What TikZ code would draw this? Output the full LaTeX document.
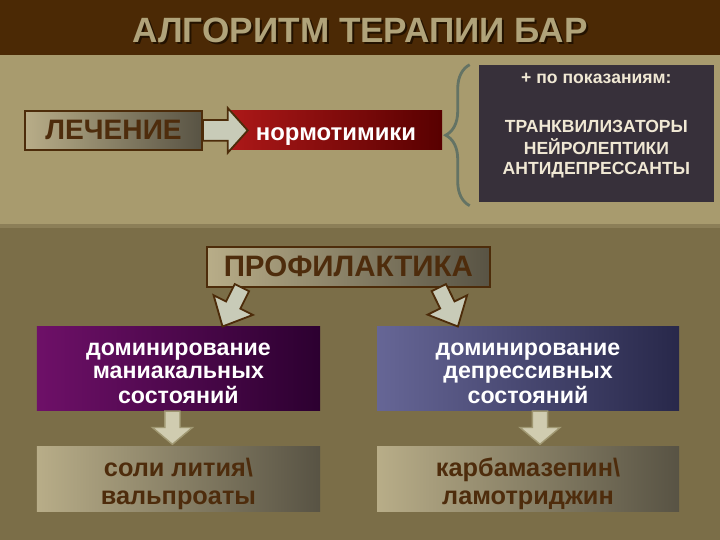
\documentclass[tikz,border=0pt]{standalone}
\usepackage{fontspec}
\setmainfont{Liberation Sans}
\usetikzlibrary{calc, decorations.pathreplacing}

\definecolor{barBrown}{RGB}{75,41,5}
\definecolor{bandTan}{RGB}{168,155,110}
\definecolor{bandLine}{RGB}{140,127,88}
\definecolor{floorOlive}{RGB}{123,110,72}
\definecolor{titleTan}{RGB}{176,163,122}
\definecolor{titleShade}{RGB}{35,18,0}
\definecolor{edgeBrown}{RGB}{77,44,10}
\definecolor{inkBrown}{RGB}{78,44,12}
\definecolor{tanLight}{RGB}{184,173,136}
\definecolor{tanDark}{RGB}{88,83,68}
\definecolor{redLight}{RGB}{172,24,24}
\definecolor{redDark}{RGB}{88,0,0}
\definecolor{slate}{RGB}{55,48,58}
\definecolor{cream}{RGB}{240,232,212}
\definecolor{plumLight}{RGB}{110,16,104}
\definecolor{plumDark}{RGB}{44,0,48}
\definecolor{blueLight}{RGB}{102,102,150}
\definecolor{blueDark}{RGB}{40,40,74}
\definecolor{arrowPale}{RGB}{200,203,184}
\definecolor{arrowSoft}{RGB}{208,204,176}
\definecolor{arrowRim}{RGB}{160,152,114}
\definecolor{braceGrey}{RGB}{100,115,100}

\tikzstyle{greybox} = [rectangle, draw=edgeBrown, line width=1.2pt, left color=tanLight, right color=tanDark, text=inkBrown, text centered, inner sep=0pt]
\tikzstyle{redbox} = [rectangle, left color=redLight, right color=redDark, text=white, text centered, inner sep=0pt]
\tikzstyle{slatebox} = [rectangle, fill=slate, text=cream, inner sep=0pt]
\tikzstyle{plumbox} = [rectangle, left color=plumLight, right color=plumDark, text=white, inner sep=0pt]
\tikzstyle{bluebox} = [rectangle, left color=blueLight, right color=blueDark, text=white, inner sep=0pt]
\tikzstyle{pillbox} = [rectangle, left color=tanLight, right color=tanDark, text=inkBrown, inner sep=0pt]
\tikzstyle{fatarrow} = [fill=arrowPale, draw=edgeBrown, line width=1.3pt]
\tikzstyle{softarrow} = [fill=arrowSoft, draw=arrowRim, line width=1pt]
\tikzstyle{curly} = [draw=braceGrey, line width=2pt, decorate, decoration={brace, amplitude=0.6cm}]

% centred lines, moved up or down inside their box
\newcommand{\shifted}[2]{\raisebox{#1}[\height][\depth]{\begin{tabular}{@{}c@{}}#2\end{tabular}}}

% block arrow: style, from, to, shaft half width, head half width, head length
\newcommand{\blockarrow}[6]{
    \coordinate (ba-s) at (#2);
    \coordinate (ba-t) at (#3);
    \coordinate (ba-h) at ($(ba-t)!#6!(ba-s)$);
    \draw[#1] ($(ba-s)!#4!90:(ba-t)$) -- ($(ba-h)!#4!-90:(ba-s)$) -- ($(ba-h)!#5!-90:(ba-s)$) -- (ba-t)
        -- ($(ba-h)!#5!90:(ba-s)$) -- ($(ba-h)!#4!90:(ba-s)$) -- ($(ba-s)!#4!-90:(ba-t)$) -- cycle;
}

\begin{document}
\begin{tikzpicture}

    % backgrounds
    \fill[floorOlive] (0,0) rectangle (18,13.5);
    \fill[bandTan] (0,7.9) rectangle (18,12.13);
    \fill[bandLine] (0,7.8) rectangle (18,7.9);
    \fill[barBrown] (0,12.13) rectangle (18,13.5);

    \node (titleShadow) at (9.05,12.70) [text=titleShade, font=\fontsize{25}{30}\selectfont\bfseries] {АЛГОРИТМ ТЕРАПИИ БАР};
    \node (title) at (9,12.75) [text=titleTan, font=\fontsize{25}{30}\selectfont\bfseries] {АЛГОРИТМ ТЕРАПИИ БАР};

    \node (lech) at (2.84,10.24) [greybox, minimum width=4.43cm, minimum height=0.98cm, font=\fontsize{20}{24}\selectfont\bfseries] {ЛЕЧЕНИЕ};
    \node (norm) [redbox, right of=lech, xshift=4.56cm, minimum width=5.3cm, minimum height=0.98cm, font=\fontsize{17}{20}\selectfont\bfseries] {\shifted{-3pt}{нормотимики}};
    \coordinate (normTip) at ([xshift=0.45cm]norm.west);
    \node (indic) at (14.91,10.16) [slatebox, minimum width=5.88cm, minimum height=3.43cm, font=\fontsize{12.5}{14}\selectfont\bfseries] {\shifted{6pt}{+ по показаниям:\\[21pt]ТРАНКВИЛИЗАТОРЫ\\НЕЙРОЛЕПТИКИ\\АНТИДЕПРЕССАНТЫ}};

    \node (prof) at (8.71,6.83) [greybox, minimum width=7.08cm, minimum height=1cm, font=\fontsize{21}{25}\selectfont\bfseries] {ПРОФИЛАКТИКА};
    \node (mania) at (4.46,4.28) [plumbox, minimum width=7.08cm, minimum height=2.1cm, font=\fontsize{16.5}{17}\selectfont\bfseries] {\shifted{-4pt}{доминирование\\маниакальных\\состояний}};
    \node (depr) at (13.2,4.28) [bluebox, minimum width=7.55cm, minimum height=2.1cm, font=\fontsize{16.5}{17}\selectfont\bfseries] {\shifted{-4pt}{доминирование\\депрессивных\\состояний}};
    \node (lith) [pillbox, below of=mania, yshift=-1.76cm, minimum width=7.08cm, minimum height=1.63cm, font=\fontsize{18}{20}\selectfont\bfseries] {\shifted{-4pt}{соли лития\textbackslash\\вальпроаты}};
    \node (carb) [pillbox, below of=depr, yshift=-1.76cm, minimum width=7.55cm, minimum height=1.63cm, font=\fontsize{18}{20}\selectfont\bfseries] {\shifted{-4pt}{карбамазепин\textbackslash\\ламотриджин}};

    \blockarrow{fatarrow}{lech.east}{normTip}{0.26cm}{0.56cm}{0.5cm}
    \blockarrow{fatarrow}{[xshift=0.9cm]prof.south west}{[xshift=4.65cm]mania.north west}{0.2cm}{0.55cm}{0.6cm}
    \blockarrow{fatarrow}{[xshift=-1.3cm]prof.south east}{[xshift=2.03cm]depr.north west}{0.2cm}{0.55cm}{0.6cm}
    \blockarrow{softarrow}{[xshift=-0.15cm]mania.south}{[xshift=-0.15cm, yshift=0.05cm]lith.north}{0.19cm}{0.5cm}{0.42cm}
    \blockarrow{softarrow}{[xshift=0.3cm]depr.south}{[xshift=0.3cm, yshift=0.05cm]carb.north}{0.19cm}{0.5cm}{0.42cm}

    \draw[curly] ([xshift=-0.22cm, yshift=-0.08cm]indic.south west) -- ([xshift=-0.22cm]indic.north west);

\end{tikzpicture}
\end{document}
